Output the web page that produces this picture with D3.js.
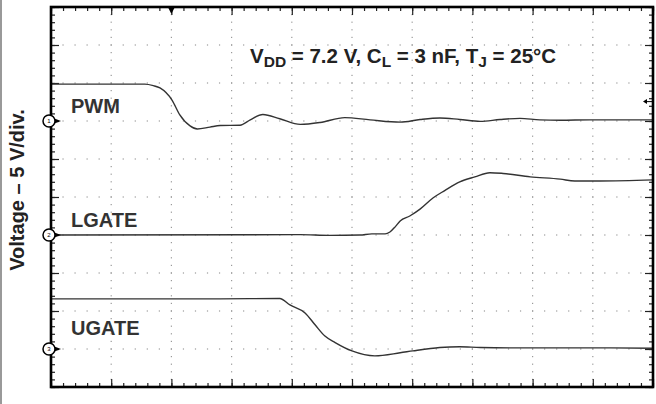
<!DOCTYPE html>
<html>
<head>
<meta charset="utf-8">
<script src="https://cdn.jsdelivr.net/npm/d3@7"></script>
<style>
  body { margin: 0; background: #fff; }
  text { font-family: "Liberation Sans", Arial, sans-serif; font-weight: bold; }
</style>
</head>
<body>
<script>
// scope capture, time in divisions, levels in volts above each channel's ground marker
var voltsPerDiv = 5;
var channelNames = ["PWM", "LGATE", "UGATE"];
var channelGroundDiv = [7, 4, 1]; // ground marker position, divisions from bottom

var pwmTime  = [0, 1.56, 1.7, 1.81, 2.01, 2.14, 2.31, 2.43, 2.64, 2.81, 3.14, 3.31, 3.52, 3.80, 4.14, 4.47, 4.88, 5.30, 5.80, 6.13, 6.46, 6.79, 7.13, 7.46, 7.79, 8.12, 8.46, 8.95, 9.45, 10];
var pwmVolts = [4.85, 4.85, 4.65, 4.35, 2.75, 0.8, -0.65, -1.05, -0.8, -0.6, -0.55, 0.15, 0.85, 0.3, -0.45, -0.2, 0.45, 0.15, -0.15, 0.2, 0.4, 0.2, -0.05, 0.2, 0.35, 0.15, 0.1, 0.15, 0.15, 0.15];

var lgateTime  = [0, 4.14, 4.63, 5.13, 5.33, 5.55, 5.63, 5.72, 5.80, 5.96, 6.13, 6.35, 6.54, 6.79, 7.04, 7.29, 7.51, 7.96, 8.46, 8.70, 9.12, 10];
var lgateVolts = [0, 0.05, -0.05, 0, 0.15, 0.15, 0.4, 1.1, 1.85, 2.5, 3.4, 4.9, 5.85, 7.0, 7.65, 8.2, 8.1, 7.65, 7.35, 7.1, 7.1, 7.25];

var ugateTime  = [0, 2.81, 3.80, 3.97, 4.22, 4.39, 4.55, 4.72, 5.0, 5.38, 5.80, 6.01, 6.46, 6.79, 7.13, 7.79, 8.46, 9.12, 10];
var ugateVolts = [6.6, 6.6, 6.65, 5.8, 4.75, 3.15, 1.7, 0.85, -0.25, -0.9, -0.5, -0.25, 0.2, 0.3, 0.2, 0.15, 0.15, 0.15, 0.1];

var traces = [
  { time: pwmTime, volts: pwmVolts },
  { time: lgateTime, volts: lgateVolts },
  { time: ugateTime, volts: ugateVolts }
];

var w = 656, h = 404;
var pL = 51, pR = 653, pT = 7, pB = 387; // plot frame edges

var svg = d3.select("body").append("svg")
  .attr("width", w)
  .attr("height", h);

// gray page edge on the left
svg.append("line")
  .attr("x1", 1).attr("x2", 1).attr("y1", 0).attr("y2", h)
  .style("stroke", "#999").style("stroke-width", 2);

var x = d3.scaleLinear().domain([0, 10]).range([pL, pR]);
var y = d3.scaleLinear().domain([0, 10]).range([pB, pT]);

// dotted graticule
var grid = svg.append("g").attr("fill", "#9a9a9a");
var majors = d3.range(1, 10);
var minors = d3.range(0, 50).map(function(i){ return i * 0.2; });
majors.forEach(function(m){
  minors.forEach(function(n){
    grid.append("rect").attr("x", x(m) - 0.6).attr("y", y(n) - 0.6).attr("width", 1.2).attr("height", 1.2);
    grid.append("rect").attr("x", x(n) - 0.6).attr("y", y(m) - 0.6).attr("width", 1.2).attr("height", 1.2);
  });
});

// edge ticks, minor and major, all pointing inward
var minorVals = d3.range(0, 51).map(function(i){ return i * 0.2; });
var majorVals = d3.range(0, 11);
function edge(axisFn, scale, vals, size, tr){
  var g = svg.append("g")
    .attr("transform", tr)
    .call(axisFn(scale).tickValues(vals).tickSize(-size).tickFormat(""));
  g.select(".domain").remove();
  g.selectAll("line").style("stroke", "#222").style("stroke-width", 1.2);
}
edge(d3.axisBottom, x, minorVals, 4, "translate(0," + pB + ")");
edge(d3.axisBottom, x, majorVals, 8, "translate(0," + pB + ")");
edge(d3.axisTop, x, minorVals, 4, "translate(0," + pT + ")");
edge(d3.axisTop, x, majorVals, 8, "translate(0," + pT + ")");
edge(d3.axisLeft, y, minorVals, 4, "translate(" + pL + ",0)");
edge(d3.axisLeft, y, majorVals, 8, "translate(" + pL + ",0)");
edge(d3.axisRight, y, minorVals, 4, "translate(" + pR + ",0)");
edge(d3.axisRight, y, majorVals, 8, "translate(" + pR + ",0)");

// traces
var line = d3.line().curve(d3.curveMonotoneX);
traces.forEach(function(tr, c){
  var pts = tr.time.map(function(t, i){
    return [x(t), y(channelGroundDiv[c] + tr.volts[i] / voltsPerDiv)];
  });
  svg.append("path")
    .attr("d", line(pts))
    .style("fill", "none")
    .style("stroke", "#333")
    .style("stroke-width", 1.4);
});

// frame
svg.append("rect")
  .attr("x", pL).attr("y", pT)
  .attr("width", pR - pL).attr("height", pB - pT)
  .style("fill", "none").style("stroke", "#000").style("stroke-width", 2.6);

// trigger marker at top, trigger level marker at right
svg.append("path")
  .attr("d", "M" + (x(2) - 3) + "," + (pT + 1) + "L" + (x(2) + 3) + "," + (pT + 1) + "L" + x(2) + "," + (pT + 7) + "Z")
  .style("fill", "#000");
var trigY = y(channelGroundDiv[0] + 2.55 / voltsPerDiv);
svg.append("path")
  .attr("d", "M" + (pR - 10) + "," + trigY + "L" + (pR - 6) + "," + (trigY - 2.5) + "L" + (pR - 6) + "," + (trigY + 2.5) + "Z")
  .style("fill", "#000");
svg.append("line")
  .attr("x1", pR - 6).attr("x2", pR).attr("y1", trigY).attr("y2", trigY)
  .style("stroke", "#000").style("stroke-width", 1);

// channel ground markers
channelGroundDiv.forEach(function(d, i){
  var cy = y(d);
  svg.append("path")
    .attr("d", "M" + (pL + 2) + "," + (cy - 3) + "L" + (pL + 10) + "," + cy + "L" + (pL + 2) + "," + (cy + 3) + "Z")
    .style("fill", "#000");
  svg.append("circle")
    .attr("cx", pL - 2).attr("cy", cy).attr("r", 6)
    .style("fill", "#fff").style("stroke", "#000").style("stroke-width", 1.5);
  svg.append("text")
    .attr("x", pL - 2).attr("y", cy + 2.2)
    .attr("text-anchor", "middle")
    .style("font-size", "6px").style("font-weight", "normal")
    .text(i + 1);
});

// channel names
var labelY = [113, 227, 335];
channelNames.forEach(function(name, i){
  svg.append("text")
    .attr("x", 71).attr("y", labelY[i])
    .style("font-size", "20px").style("fill", "#333")
    .text(name);
});

// conditions
var title = svg.append("text")
  .attr("x", 250).attr("y", 63)
  .style("font-size", "20.5px").style("fill", "#222");
var parts = [["V", ""], ["DD", "sub"], [" = 7.2 V, C", ""], ["L", "sub"], [" = 3 nF, T", ""], ["J", "sub"], [" = 25°C", ""]];
parts.forEach(function(p, i){
  var ts = title.append("tspan").text(p[0]);
  if (p[1] === "sub") ts.attr("dy", 4).style("font-size", "15.5px");
  else if (i > 0) ts.attr("dy", -4);
});

// y label
svg.append("text")
  .attr("transform", "translate(24,190) rotate(-90)")
  .attr("text-anchor", "middle")
  .style("font-size", "20px").style("fill", "#222")
  .text("Voltage – 5 V/div.");
</script>
</body>
</html>
